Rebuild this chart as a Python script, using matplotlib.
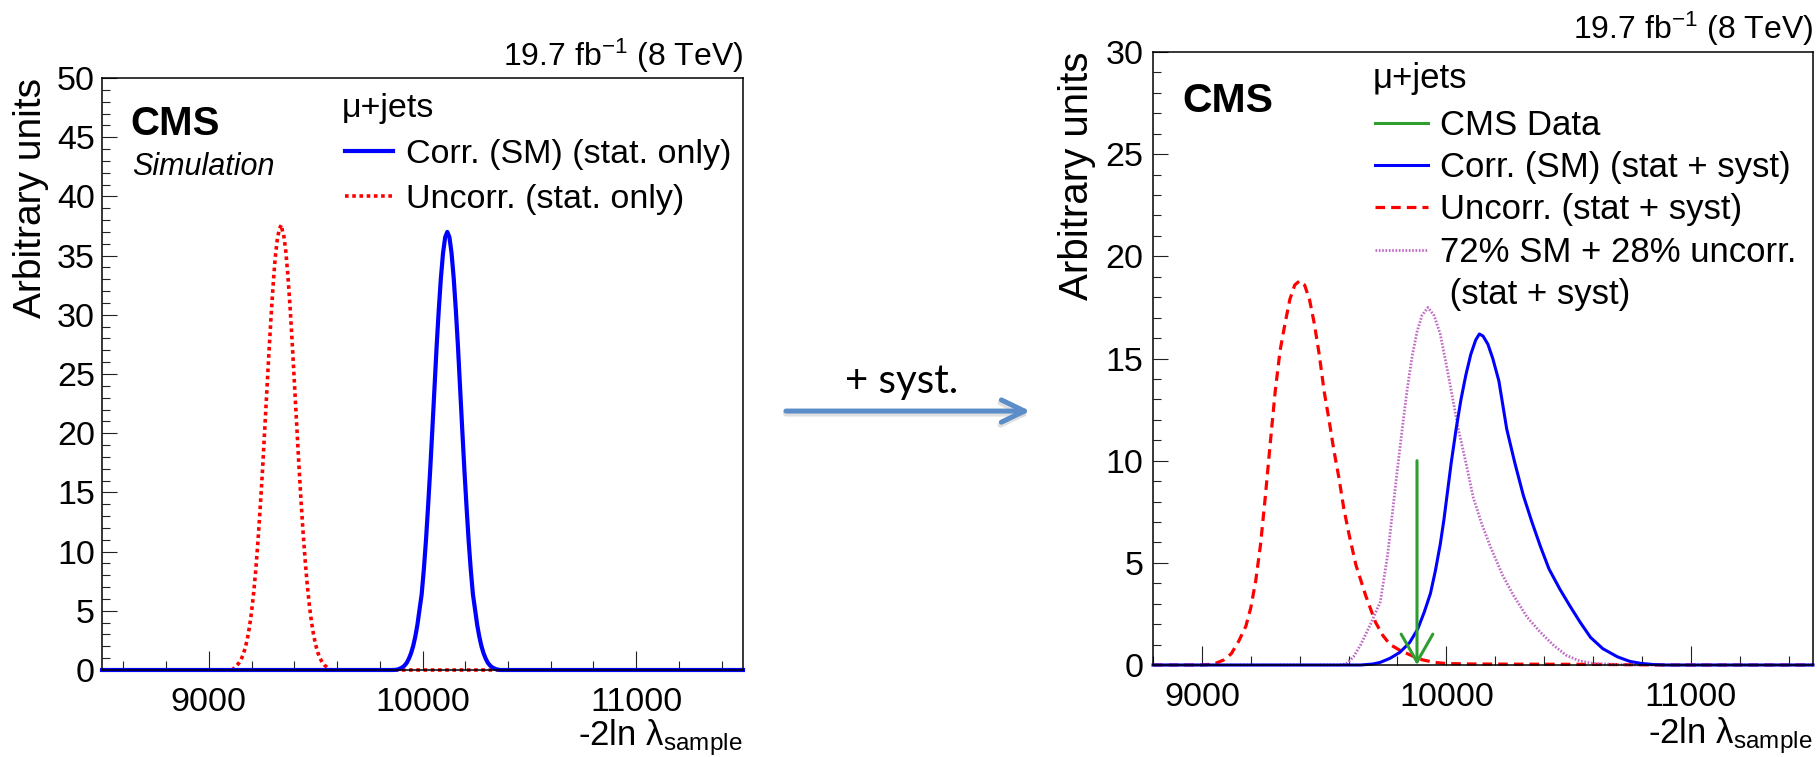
import matplotlib
matplotlib.use("Agg")
import matplotlib.pyplot as plt
from matplotlib.lines import Line2D
from matplotlib.patches import FancyArrowPatch
from matplotlib.ticker import MultipleLocator, FormatStrFormatter

plt.rcParams['font.family'] = ['Liberation Sans', 'DejaVu Sans']
plt.rcParams['mathtext.fontset'] = 'custom'
plt.rcParams['mathtext.rm'] = 'Liberation Sans'
plt.rcParams['mathtext.it'] = 'Liberation Sans'
plt.rcParams['mathtext.bf'] = 'Liberation Sans:bold'

# --- stat. only (left) ---
stat_uncorr_x = [8500, 9110, 9125, 9130, 9140, 9150, 9160, 9170, 9180, 9190, 9200,
                 9210, 9220, 9230, 9240, 9250, 9260, 9270, 9280, 9290, 9300, 9310,
                 9320, 9330, 9337, 9340, 9345, 9350, 9360, 9370, 9380, 9390, 9400,
                 9410, 9420, 9430, 9440, 9450, 9460, 9470, 9480, 9490, 9500, 9510,
                 9520, 9530, 9540, 9550, 9560, 9575, 11500]
stat_uncorr_y = [0, 0, 0.3, 0.38, 0.57, 0.85, 1.27, 1.84, 2.61, 3.62, 4.92,
                 6.56, 8.54, 10.9, 13.6, 16.5, 19.8, 23.1, 26.4, 29.5, 32.3, 34.7,
                 36.3, 37.3, 37.5, 37.6, 37.0, 36.8, 35.4, 33.3, 30.7, 27.7, 24.4,
                 21.1, 17.8, 14.7, 11.9, 9.43, 7.3, 5.54, 4.1, 2.98, 2.12, 1.48,
                 1.0, 0.67, 0.43, 0.28, 0.1, 0, 0]

stat_corr_x = [8500, 9860, 9876, 9886, 9896, 9906, 9916, 9926, 9936, 9946, 9956,
               9966, 9976, 9986, 9996, 10006, 10016, 10026, 10036, 10046, 10056,
               10066, 10076, 10086, 10096, 10106, 10116, 10126, 10136, 10146, 10156,
               10166, 10176, 10186, 10196, 10206, 10216, 10226, 10236, 10246, 10256,
               10266, 10276, 10286, 10296, 10306, 10316, 10326, 10336, 10346, 10362,
               11500]
stat_corr_y = [0, 0, 0.02, 0.06, 0.13, 0.23, 0.38, 0.6, 0.95, 1.4, 2.0,
               2.8, 3.8, 5.1, 6.38, 8.45, 10.9, 13.8, 16.9, 20.3, 23.8,
               27.3, 30.4, 33.1, 35.2, 36.55, 37.0, 36.55, 35.2, 33.1, 30.4,
               27.3, 23.8, 20.3, 16.9, 13.8, 10.9, 8.45, 6.38, 5.1, 3.8,
               2.8, 2.0, 1.4, 0.95, 0.6, 0.38, 0.23, 0.13, 0.06, 0,
               0]

# --- stat + syst (right) ---
syst_uncorr_x = [8800, 9000, 9030, 9060, 9090, 9120, 9150, 9180, 9200, 9220, 9240,
                 9260, 9280, 9300, 9320, 9340, 9360, 9380, 9400, 9420, 9440, 9460,
                 9480, 9500, 9520, 9540, 9560, 9580, 9600, 9630, 9670, 9710, 9740,
                 9770, 9810, 9860, 9900, 9950, 10000, 10100, 10300, 10600, 10900,
                 11500]
syst_uncorr_y = [0, 0, 0.03, 0.1, 0.25, 0.55, 1.15, 1.9, 2.8, 4.1, 5.9,
                 8.3, 10.9, 13.4, 15.4, 16.7, 17.9, 18.6, 18.8, 18.6, 17.9, 16.7,
                 15.2, 13.4, 12.0, 10.5, 9.2, 7.7, 6.5, 4.9, 3.4, 2.1, 1.45,
                 1.0, 0.72, 0.45, 0.26, 0.13, 0.07, 0.05, 0.04, 0.03, 0,
                 0]

syst_mix_x = [8800, 9560, 9590, 9620, 9650, 9690, 9730, 9760, 9780, 9800, 9820,
              9840, 9860, 9880, 9900, 9925, 9950, 9975, 10000, 10025, 10050, 10080,
              10110, 10145, 10180, 10230, 10275, 10330, 10385, 10440, 10490, 10545,
              10600, 10700, 10800, 11500]
syst_mix_y = [0, 0, 0.05, 0.4, 1.0, 2.0, 3.1, 5.4, 7.5, 9.6, 11.6,
              13.5, 15.1, 16.3, 17.1, 17.5, 17.1, 16.2, 14.7, 13.1, 11.5, 9.9,
              8.2, 6.9, 5.8, 4.4, 3.4, 2.35, 1.6, 0.95, 0.48, 0.2,
              0.08, 0.02, 0, 0]

syst_corr_x = [8800, 9650, 9700, 9730, 9770, 9810, 9850, 9883, 9910, 9935, 9955,
               9975, 9990, 10005, 10020, 10040, 10060, 10080, 10100, 10120, 10135,
               10150, 10170, 10190, 10215, 10247, 10280, 10315, 10350, 10385, 10420,
               10465, 10505, 10547, 10590, 10640, 10700, 10750, 10795, 10850, 10900,
               11500]
syst_corr_y = [0, 0, 0.05, 0.13, 0.33, 0.62, 1.1, 1.76, 2.6, 3.5, 4.6,
               5.9, 7.1, 8.5, 9.9, 11.55, 13.0, 14.2, 15.2, 15.9, 16.2,
               16.1, 15.7, 15.0, 13.9, 11.55, 9.9, 8.3, 7.0, 5.8, 4.7,
               3.7, 2.9, 2.1, 1.35, 0.8, 0.4, 0.18, 0.08, 0.02, 0,
               0]

# observed value in data, shown as an arrow
data_value = 9880
data_arrow_top = 10

lumi_text = r'19.7 fb$^{-1}$ (8 TeV)'
xlabel_text = r'-2ln $\mathregular{\lambda_{sample}}$'

BLUE = '#0000ff'
RED = '#ff0000'
MAGENTA = '#c06ac6'
GREEN = '#2f9e2f'


def style_axes(ax, xlim, ylim, ylab_size, ylab_x, ytick_pad):
    ax.set_xlim(*xlim)
    ax.set_ylim(*ylim)
    ax.xaxis.set_major_locator(MultipleLocator(1000))
    ax.xaxis.set_minor_locator(MultipleLocator(200))
    ax.yaxis.set_major_locator(MultipleLocator(5))
    ax.yaxis.set_minor_locator(MultipleLocator(1))
    ax.xaxis.set_major_formatter(FormatStrFormatter('%d'))
    ax.yaxis.set_major_formatter(FormatStrFormatter('%d'))
    ax.tick_params(which='both', direction='in', top=False, right=False,
                   labelsize=24.5, width=0.8, color='#222222')
    ax.tick_params(axis='x', which='major', length=13.5, pad=12)
    ax.tick_params(axis='x', which='minor', length=6.5)
    ax.tick_params(axis='y', which='major', length=11, pad=ytick_pad)
    ax.tick_params(axis='y', which='minor', length=5.5)
    for sp in ax.spines.values():
        sp.set_linewidth(1.1)
    ax.set_ylabel('Arbitrary units', loc='top', fontsize=ylab_size)
    ax.yaxis.set_label_coords(ylab_x, 1.0)
    ax.set_xlabel(xlabel_text, loc='right', fontsize=25)
    ax.xaxis.label.set_verticalalignment('baseline')
    ax.xaxis.set_label_coords(1.0, -0.128)
    ax.text(1.0, 1.021, lumi_text, transform=ax.transAxes, ha='right',
            va='baseline', fontsize=23)


fig = plt.figure(figsize=(18.17, 7.57), dpi=100)

# left: statistical uncertainties only
ax1 = fig.add_axes([0.05614, 0.11493, 0.35278, 0.78203])
ax1.plot(stat_uncorr_x, stat_uncorr_y, color=RED, lw=2.6, dashes=(1, 1.0),
         dash_capstyle='butt', clip_on=False)
ax1.plot(stat_corr_x, stat_corr_y, color=BLUE, lw=3.0, clip_on=False)
style_axes(ax1, (8500, 11500), (0, 50), 28, -0.0827, 5)

ax1.text(0.045, 0.904, 'CMS', transform=ax1.transAxes, fontsize=29,
         weight='bold', va='baseline')
ax1.text(0.047, 0.836, 'Simulation', transform=ax1.transAxes, fontsize=22,
         style='italic', va='baseline')
ax1.text(0.374, 0.934, 'μ+jets', transform=ax1.transAxes, fontsize=24.5,
         va='baseline')
h1 = [Line2D([], [], color=BLUE, lw=3.0),
      Line2D([], [], color=RED, lw=2.6, dashes=(1, 1.0))]
ax1.legend(h1, ['Corr. (SM) (stat. only)', 'Uncorr. (stat. only)'],
           loc='upper left', bbox_to_anchor=(0.379, 0.8975), frameon=False,
           fontsize=24.5, borderpad=0, borderaxespad=0, handlelength=1.4,
           handletextpad=0.39, labelspacing=0.43)

# right: statistical and systematic uncertainties
ax2 = fig.add_axes([0.63456, 0.12153, 0.36324, 0.80978])
ax2.plot(syst_uncorr_x, syst_uncorr_y, color=RED, lw=2.3, dashes=(3, 1.9),
         clip_on=False)
ax2.plot(syst_mix_x, syst_mix_y, color=MAGENTA, lw=2.0, dashes=(0.6, 0.6),
         clip_on=False)
ax2.plot(syst_corr_x, syst_corr_y, color=BLUE, lw=2.2, clip_on=False)
ax2.annotate('', xy=(data_value, 0), xytext=(data_value, data_arrow_top),
             arrowprops=dict(arrowstyle='->,head_length=2.0,head_width=1.14',
                             color=GREEN, lw=2.2, shrinkA=0, shrinkB=0,
                             mutation_scale=10))
style_axes(ax2, (8800, 11500), (0, 30), 29, -0.0864, 7)

ax2.text(0.044, 0.902, 'CMS', transform=ax2.transAxes, fontsize=29.5,
         weight='bold', va='baseline')
ax2.text(0.333, 0.942, 'μ+jets', transform=ax2.transAxes, fontsize=25,
         va='baseline')
h2 = [Line2D([], [], color=GREEN, lw=2.2),
      Line2D([], [], color=BLUE, lw=2.2),
      Line2D([], [], color=RED, lw=2.3, dashes=(3, 1.9)),
      Line2D([], [], color=MAGENTA, lw=2.0, dashes=(0.6, 0.6)),
      Line2D([], [], color='none')]
ax2.legend(h2, ['CMS Data', 'Corr. (SM) (stat + syst)', 'Uncorr. (stat + syst)',
                '72% SM + 28% uncorr.', ' (stat + syst)'],
           loc='upper left', bbox_to_anchor=(0.336, 0.9075), frameon=False,
           fontsize=25, borderpad=0, borderaxespad=0, handlelength=1.53,
           handletextpad=0.35, labelspacing=0.27)

# arrow between the two panels
shadow = FancyArrowPatch((0.431, 0.4535), (0.5685, 0.4535), transform=fig.transFigure,
                         arrowstyle='->,head_length=1.66,head_width=0.8',
                         mutation_scale=10, lw=4.2, color='#d4d4d4', alpha=0.7)
fig.add_artist(shadow)
arrow = FancyArrowPatch((0.431, 0.457), (0.5685, 0.457), transform=fig.transFigure,
                        arrowstyle='->,head_length=1.66,head_width=0.8',
                        mutation_scale=10, lw=3.6, color='#5b8dc8')
fig.add_artist(arrow)
fig.text(0.4964, 0.4808, '+ syst.', ha='center', va='baseline', fontsize=29,
         family=['Lato', 'DejaVu Sans'])

fig.savefig('out.png', dpi=100)
